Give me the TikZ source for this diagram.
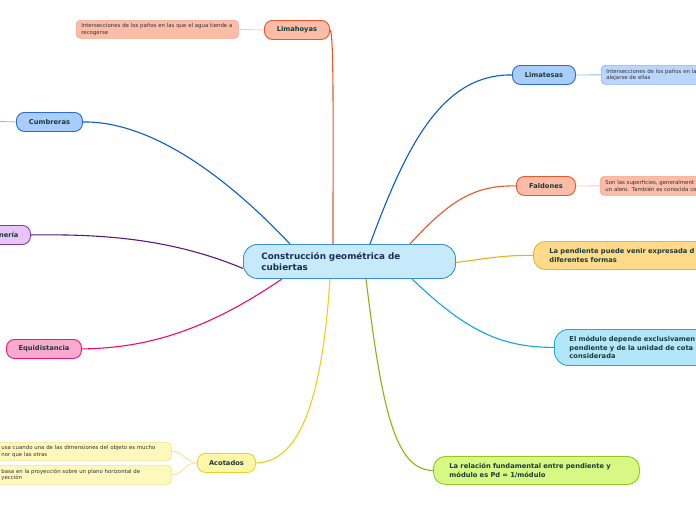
\documentclass[tikz,border=0pt]{standalone}
\usepackage{fontspec}
\setmainfont{DejaVu Sans}
\definecolor{txt}{HTML}{173C3A}
\definecolor{ctxt}{HTML}{1A2D55}
\definecolor{ntxt}{HTML}{333333}
\definecolor{salF}{HTML}{FBBCA8}\definecolor{salD}{HTML}{E8582A}\definecolor{salN}{HTML}{F6A488}\definecolor{salL}{HTML}{FCC8B6}
\definecolor{bluF}{HTML}{A8CDFA}\definecolor{bluD}{HTML}{2A6AD6}\definecolor{bluNF}{HTML}{BAD6FC}\definecolor{bluN}{HTML}{8CB6F2}\definecolor{bluLn}{HTML}{0A5CD0}
\definecolor{lavF}{HTML}{E8C4F8}\definecolor{lavD}{HTML}{7E3E9E}\definecolor{lavLn}{HTML}{5A1A80}
\definecolor{pinF}{HTML}{FBAACF}\definecolor{pinD}{HTML}{E8187A}\definecolor{pinLn}{HTML}{EC0E6A}
\definecolor{yelF}{HTML}{FFF6A8}\definecolor{yelD}{HTML}{E8D42E}\definecolor{yelLn}{HTML}{E8D020}\definecolor{yelNF}{HTML}{FFF8BC}\definecolor{yelN}{HTML}{F2E58A}
\definecolor{oraF}{HTML}{FFDA8A}\definecolor{oraD}{HTML}{F2B030}\definecolor{oraLn}{HTML}{F2AE18}
\definecolor{cyaF}{HTML}{B4E6FA}\definecolor{cyaD}{HTML}{22A8E0}\definecolor{cyaLn}{HTML}{12A6E2}
\definecolor{greF}{HTML}{D8F884}\definecolor{greD}{HTML}{96C620}\definecolor{greLn}{HTML}{86B616}
\definecolor{cenF}{HTML}{C6EAFA}\definecolor{cenD}{HTML}{3A90D0}
\tikzset{
  topic/.style={draw, rounded corners=8pt, line width=0.9pt, anchor=north west, inner sep=0pt,
    minimum height=19pt, text=txt, font=\bfseries\fontsize{6.7}{8}\selectfont},
  bigtopic/.style={draw, rounded corners=12pt, line width=0.9pt, anchor=north west, inner ysep=0pt,
    align=left, text=txt, font=\bfseries\fontsize{6.7}{8.6}\selectfont},
  note/.style={draw, rounded corners=4pt, line width=0.7pt, anchor=north west, inner ysep=0pt,
    align=left, text=ntxt, font=\fontsize{5.4}{6.4}\selectfont},
  conn/.style={line width=1.1pt},
  nconn/.style={line width=0.8pt},
}
\begin{document}
\begin{tikzpicture}[x=1pt,y=-1pt]
\useasboundingbox (0,0) rectangle (696,520);
\clip (0,0) rectangle (696,520);
\fill[white] (0,0) rectangle (696,520);

% center node
\node[draw=cenD, fill=cenF, line width=0.9pt, rounded corners=14pt, anchor=north west,
  minimum width=212pt, minimum height=34pt, inner xsep=18pt, inner ysep=0pt,
  text width=176pt, align=left, text=ctxt, font=\bfseries\fontsize{8.8}{10.6}\selectfont]
  (c) at (243,244) {Construcción geométrica de\\cubiertas};

% topics
\node[topic, draw=salD, fill=salF, minimum width=65pt] (lh) at (264,20) {Limahoyas};
\node[note, draw=salN, fill=salF, minimum width=162pt, minimum height=18pt, inner xsep=5pt, text width=152pt]
  (lhn) at (76,20) {Intersecciones de los paños en las que el agua tiende a\\recogerse};

\node[topic, draw=bluD, fill=bluF, minimum width=63pt] (lt) at (512,65) {Limatesas};
\node[note, draw=bluN, fill=bluNF, minimum width=130pt, minimum height=19pt, inner xsep=5pt, text width=120pt]
  (ltn) at (601,65) {Intersecciones de los paños en la\\alejarse de ellas};

\node[topic, draw=salD, fill=salF, minimum width=59pt] (fa) at (516,176) {Faldones};
\node[note, draw=salN, fill=salF, minimum width=130pt, minimum height=19pt, inner xsep=5pt, text width=120pt]
  (fan) at (600,176) {Son las superficies, generalment\\un alero. También es conocida co};

\node[topic, draw=bluD, fill=bluF, minimum width=66pt] (cu) at (16,112) {Cumbreras};
\coordinate (cuo) at (-20,121);

\node[topic, draw=lavD, fill=lavF, minimum width=70pt, text width=46pt, inner xsep=12pt, align=right] (ne) at (-40,225) {nería};

\node[topic, draw=pinD, fill=pinF, minimum width=75pt] (eq) at (6,339) {Equidistancia};

\node[topic, draw=yelD, fill=yelF, minimum width=58pt] (ac) at (197,453) {Acotados};
\node[note, draw=yelN, fill=yelNF, minimum width=175pt, minimum height=18pt, inner xsep=5pt, text width=165pt]
  (ac1) at (-4,442) {usa cuando una de las dimensiones del objeto es mucho\\nor que las otras};
\node[note, draw=yelN, fill=yelNF, minimum width=175pt, minimum height=19pt, inner xsep=5pt, text width=165pt]
  (ac2) at (-4,465) {basa en la proyección sobre un plano horizontal de\\yección};

\node[bigtopic, draw=oraD, fill=oraF, minimum width=200pt, minimum height=28pt, inner xsep=16pt, text width=168pt]
  (pe) at (533,241) {La pendiente puede venir expresada d\\diferentes formas};
\node[bigtopic, draw=cyaD, fill=cyaF, rounded corners=14pt, minimum width=200pt, minimum height=36pt, inner xsep=15pt, text width=170pt]
  (mo) at (554,329) {El módulo depende exclusivamen\\pendiente y de la unidad de cota\\considerada};
\node[bigtopic, draw=greD, fill=greF, minimum width=206pt, minimum height=28pt, inner xsep=16pt, text width=174pt]
  (re) at (433,456) {La relación fundamental entre pendiente y\\módulo es Pd = 1/módulo};

% connectors
\draw[conn, salD] ([xshift=90pt]c.north west) .. controls (333,120) and (334,30) .. (lh.east);
\draw[conn, bluLn] ([xshift=127pt]c.north west) .. controls (405,150) and (440,74) .. (lt.west);
\draw[conn, salD] ([xshift=167pt]c.north west) .. controls (450,200) and (475,185) .. (fa.west);
\draw[conn, oraLn] ([yshift=-1pt]c.east) .. controls (490,258) and (505,255) .. (pe.west);
\draw[conn, cyaLn] ([xshift=169pt]c.south west) .. controls (470,335) and (505,347) .. (mo.west);
\draw[conn, greLn] ([xshift=123pt]c.south west) .. controls (382,410) and (395,470) .. (re.west);
\draw[conn, yelLn] ([xshift=87pt]c.south west) .. controls (322,400) and (300,462) .. (ac.east);
\draw[conn, pinLn] ([xshift=39pt]c.south west) .. controls (200,335) and (140,348) .. (eq.east);
\draw[conn, lavLn] ([yshift=-7pt]c.west) .. controls (170,238) and (100,234) .. (ne.east);
\draw[conn, bluLn] ([xshift=47pt]c.north west) .. controls (225,175) and (150,121) .. (cu.east);
\draw[nconn, salL] (lh.west) -- (lhn.east);
\draw[nconn, bluN] (lt.east) -- (ltn.west);
\draw[nconn, salL] (fa.east) -- (fan.west);
\draw[nconn, bluN] (cu.west) -- (cuo);
\draw[nconn, yelN] (ac.west) .. controls (185,462) and (183,451) .. (ac1.east);
\draw[nconn, yelN] (ac.west) .. controls (185,462) and (183,475) .. (ac2.east);
\end{tikzpicture}
\end{document}
